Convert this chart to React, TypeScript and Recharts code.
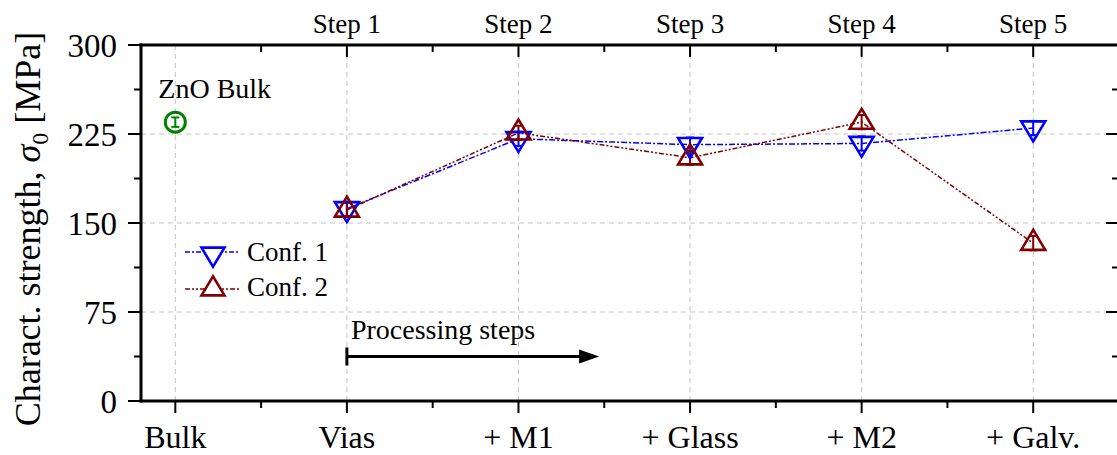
import React from 'react';
import { ComposedChart, Line, XAxis, YAxis, ErrorBar, ReferenceLine, Legend } from 'recharts';

// ---- Data ----
const categories = ['Bulk', 'Vias', '+ M1', '+ Glass', '+ M2', '+ Galv.'];
const stepLabels = ['', 'Step 1', 'Step 2', 'Step 3', 'Step 4', 'Step 5'];
const bulkValues: (number | null)[] = [235, null, null, null, null, null];
const bulkErrors: (number | null)[] = [4, null, null, null, null, null];
const conf1Values: (number | null)[] = [null, 162, 221, 216, 217, 230];
const conf1Errors: (number | null)[] = [null, 6, 6, 6, 6, 6];
const conf2Values: (number | null)[] = [null, 161, 226, 205, 235, 133];
const conf2Errors: (number | null)[] = [null, 6, 6, 6, 6, 6];
const yTicks = [0, 37.5, 75, 112.5, 150, 187.5, 225, 262.5, 300];
const bottomTicks = [0, 0.5, 1, 1.5, 2, 2.5, 3, 3.5, 4, 4.5, 5];
const topTicks = [0.5, 1, 1.5, 2, 2.5, 3, 3.5, 4, 4.5, 5];
const gridX = [0, 1, 2, 3, 4, 5];
const gridY = [75, 150, 225];
const arrowFrom = { x: 1, y: 37.5 };
const arrowTo = { x: 2.47, y: 37.5 };

const data = categories.map((c, i) => ({
  x: i,
  name: c,
  bulk: bulkValues[i],
  bulkErr: bulkErrors[i],
  c1: conf1Values[i],
  c1Err: conf1Errors[i],
  c2: conf2Values[i],
  c2Err: conf2Errors[i],
}));

const FONT = '"Liberation Serif", "Times New Roman", serif';
const BLUE = '#0000ff';
const RED = '#800000';
const GREEN = '#008000';

const isMajorX = (v: number) => Math.abs(v - Math.round(v)) < 1e-6;
const isMajorY = (v: number) => Math.abs(v / 75 - Math.round(v / 75)) < 1e-6;

const BottomTick = (props: any) => {
  const { x, y, payload } = props;
  const v = payload.value;
  const major = isMajorX(v);
  return (
    <g>
      <line x1={x} x2={x} y1={y} y2={y + (major ? 12 : 7)} stroke="#000" strokeWidth={2} />
      {major && (
        <text x={x} y={y + 47} textAnchor="middle" fontSize={32} fontFamily={FONT} fill="#000">
          {categories[Math.round(v)]}
        </text>
      )}
    </g>
  );
};

const TopTick = (props: any) => {
  const { x, y, payload } = props;
  const v = payload.value;
  const major = isMajorX(v);
  return (
    <g>
      <line x1={x} x2={x} y1={y} y2={y + (major ? 12 : 7)} stroke="#000" strokeWidth={2} />
      {major && (
        <text x={x} y={y - 12} textAnchor="middle" fontSize={27} fontFamily={FONT} fill="#000">
          {stepLabels[Math.round(v)]}
        </text>
      )}
    </g>
  );
};

const LeftTick = (props: any) => {
  const { x, y, payload } = props;
  const v = payload.value;
  const major = isMajorY(v);
  return (
    <g>
      <line x1={x} x2={x - (major ? 13 : 7)} y1={y} y2={y} stroke="#000" strokeWidth={2} />
      {major && (
        <text x={x - 24} y={y + 11.5} textAnchor="end" fontSize={33} fontFamily={FONT} fill="#000">
          {v}
        </text>
      )}
    </g>
  );
};

const RightTick = (props: any) => {
  const { x, y, payload } = props;
  const v = payload.value;
  const major = isMajorY(v);
  return <line x1={x} x2={x - (major ? 13 : 7)} y1={y} y2={y} stroke="#000" strokeWidth={2} />;
};

const triPoints = (cx: number, cy: number, dir: 'up' | 'down', w = 24, h = 20) => {
  if (dir === 'down') {
    return `${cx - w / 2},${cy - h / 3} ${cx + w / 2},${cy - h / 3} ${cx},${cy + (2 * h) / 3}`;
  }
  return `${cx},${cy - (2 * h) / 3} ${cx - w / 2},${cy + h / 3} ${cx + w / 2},${cy + h / 3}`;
};

const makeTriDot = (dir: 'up' | 'down', color: string) => (props: any) => {
  const { cx, cy, index, value } = props;
  if (value == null || !Number.isFinite(cx) || !Number.isFinite(cy)) return <g key={`e${index}`} />;
  return (
    <polygon
      key={`t${index}`}
      points={triPoints(cx, cy, dir)}
      fill="none"
      stroke={color}
      strokeWidth={2.6}
      strokeLinejoin="miter"
    />
  );
};

const BulkDot = (props: any) => {
  const { cx, cy, index, value } = props;
  if (value == null || !Number.isFinite(cx) || !Number.isFinite(cy)) return <g key={`b${index}`} />;
  return (
    <g key={`b${index}`}>
      <circle cx={cx} cy={cy} r={10} fill="none" stroke={GREEN} strokeWidth={3} />
      <text x={cx - 17} y={cy - 24} fontSize={28} fontFamily={FONT} fill="#000">
        ZnO Bulk
      </text>
    </g>
  );
};

const ArrowShape = (p: any) => {
  const { x1, y1, x2 } = p;
  if (!Number.isFinite(x1) || !Number.isFinite(y1)) return <g />;
  return (
    <g>
      <line x1={x1} y1={y1} x2={x2 - 16} y2={y1} stroke="#000" strokeWidth={3} />
      <line x1={x1} y1={y1 - 9} x2={x1} y2={y1 + 9} stroke="#000" strokeWidth={3} />
      <polygon points={`${x2},${y1} ${x2 - 20},${y1 - 7} ${x2 - 20},${y1 + 7}`} fill="#000" />
      <text x={x1 + 4} y={y1 - 18} fontSize={28} fontFamily={FONT} fill="#000">
        Processing steps
      </text>
    </g>
  );
};

const YTitle = (props: any) => {
  const vb = props.viewBox || { x: 0, y: 45, width: 141, height: 356 };
  const cx = vb.x + 40;
  const cy = vb.y + vb.height / 2 + 6;
  return (
    <text
      x={cx}
      y={cy}
      transform={`rotate(-90, ${cx}, ${cy})`}
      textAnchor="middle"
      fontSize={36}
      fontFamily={FONT}
      fill="#000"
    >
      <tspan>Charact. strength, </tspan>
      <tspan fontStyle="italic">σ</tspan>
      <tspan fontSize={24} dy={8}>0</tspan>
      <tspan dy={-8}> [MPa]</tspan>
    </text>
  );
};

const LegendContent = () => (
  <svg width={180} height={72} style={{ display: 'block', overflow: 'visible' }}>
    <line x1={2} x2={57} y1={16} y2={16} stroke={BLUE} strokeWidth={1.5} strokeDasharray="5 2 2 2" />
    <polygon points={triPoints(30, 18, 'down', 23, 19)} fill="#fff" stroke={BLUE} strokeWidth={2.6} />
    <text x={64} y={25} fontSize={27} fontFamily={FONT} fill="#000">Conf. 1</text>
    <line x1={2} x2={57} y1={53} y2={53} stroke={RED} strokeWidth={1.5} strokeDasharray="5 2 2 2 2 2" />
    <polygon points={triPoints(30, 53, 'up', 23, 19)} fill="#fff" stroke={RED} strokeWidth={2.6} />
    <text x={64} y={60} fontSize={27} fontFamily={FONT} fill="#000">Conf. 2</text>
  </svg>
);

export default function App() {
  return (
    <div
      style={{
        position: 'absolute',
        left: 0,
        top: 0,
        width: 1117,
        height: 455,
        overflow: 'hidden',
        background: '#fff',
        fontFamily: FONT,
      }}
    >
      <ComposedChart width={1120} height={455} data={data} margin={{ top: 0, right: 0, bottom: 0, left: 0 }}>
        <XAxis
          xAxisId={0}
          dataKey="x"
          type="number"
          domain={[-0.2, 5.5]}
          ticks={bottomTicks}
          interval={0}
          orientation="bottom"
          height={54}
          tickSize={0}
          tickMargin={0}
          tickLine={false}
          tick={<BottomTick />}
          axisLine={{ stroke: '#000', strokeWidth: 3, strokeLinecap: 'square' }}
          allowDataOverflow
        />
        <XAxis
          xAxisId="top"
          dataKey="x"
          type="number"
          domain={[-0.2, 5.5]}
          ticks={topTicks}
          interval={0}
          orientation="top"
          height={45}
          tickSize={0}
          tickMargin={0}
          tickLine={false}
          tick={<TopTick />}
          axisLine={{ stroke: '#000', strokeWidth: 3, strokeLinecap: 'square' }}
          allowDataOverflow
        />
        <YAxis
          yAxisId={0}
          type="number"
          domain={[0, 300]}
          ticks={yTicks}
          interval={0}
          width={141}
          tickSize={0}
          tickMargin={0}
          tickLine={false}
          tick={<LeftTick />}
          axisLine={{ stroke: '#000', strokeWidth: 3, strokeLinecap: 'square' }}
          label={<YTitle />}
          allowDataOverflow
        />
        <YAxis
          yAxisId="right"
          orientation="right"
          type="number"
          domain={[0, 300]}
          ticks={yTicks}
          interval={0}
          width={1}
          tickSize={0}
          tickMargin={0}
          tickLine={false}
          tick={<RightTick />}
          axisLine={{ stroke: '#000', strokeWidth: 3 }}
          allowDataOverflow
        />
        {gridX.map((v) => (
          <ReferenceLine key={`gx${v}`} x={v} stroke="#c4c4c4" strokeWidth={1} strokeDasharray="5 4" />
        ))}
        {gridY.map((v) => (
          <ReferenceLine key={`gy${v}`} y={v} stroke="#c4c4c4" strokeWidth={1} strokeDasharray="5 4" />
        ))}
        <ReferenceLine segment={[arrowFrom, arrowTo]} stroke="#000" shape={ArrowShape} />
        <Legend
          layout="horizontal"
          verticalAlign="middle"
          align="center"
          content={LegendContent}
          wrapperStyle={{ position: 'absolute', left: 183, top: 236, width: 180, height: 72 }}
        />
        <Line
          dataKey="c1"
          type="linear"
          stroke={BLUE}
          strokeWidth={1.5}
          strokeDasharray="6 2 2 2"
          dot={makeTriDot('down', BLUE)}
          activeDot={false}
          isAnimationActive={false}
          connectNulls={false}
        >
          <ErrorBar dataKey="c1Err" direction="y" width={4} stroke={BLUE} strokeWidth={2} />
        </Line>
        <Line
          dataKey="c2"
          type="linear"
          stroke={RED}
          strokeWidth={1.5}
          strokeDasharray="5 2 2 2 2 2"
          dot={makeTriDot('up', RED)}
          activeDot={false}
          isAnimationActive={false}
          connectNulls={false}
        >
          <ErrorBar dataKey="c2Err" direction="y" width={4} stroke={RED} strokeWidth={2} />
        </Line>
        <Line
          dataKey="bulk"
          type="linear"
          stroke="none"
          dot={BulkDot}
          activeDot={false}
          isAnimationActive={false}
          legendType="none"
        >
          <ErrorBar dataKey="bulkErr" direction="y" width={4} stroke={GREEN} strokeWidth={2} />
        </Line>
      </ComposedChart>
    </div>
  );
}
